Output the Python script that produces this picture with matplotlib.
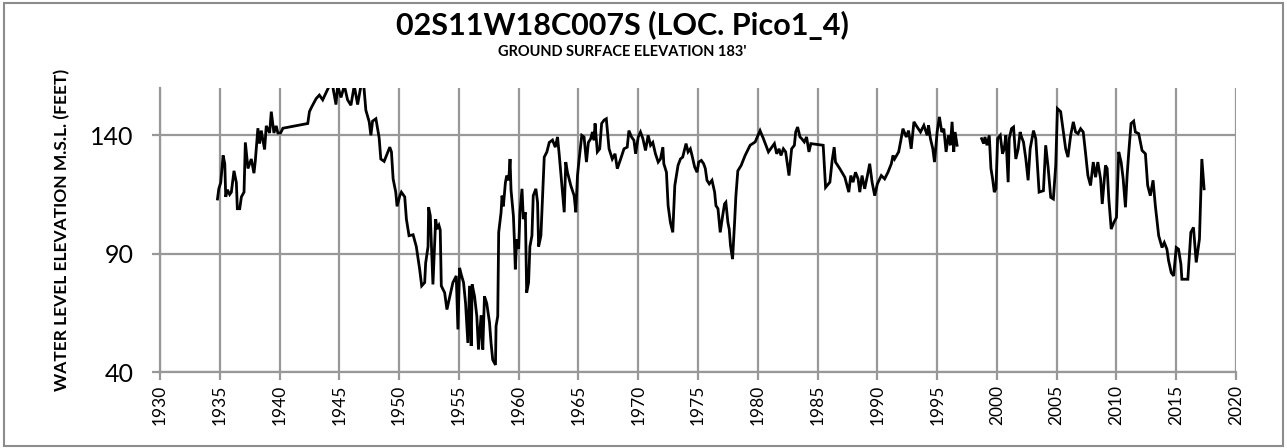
import numpy as np
import matplotlib
matplotlib.use('Agg')
import matplotlib.pyplot as plt
from matplotlib.patches import Rectangle

plt.rcParams['font.family'] = ['Lato', 'DejaVu Sans']

title = '02S11W18C007S (LOC. Pico1_4)'
subtitle = "GROUND SURFACE ELEVATION 183'"
ylabel = 'WATER LEVEL ELEVATION M.S.L. (FEET)'

# decimal year, water level (ft msl) -- nan marks the gap in records
years = [1934.81, 1934.92, 1935.08, 1935.28, 1935.42, 1935.50, 1935.64, 1935.83, 1935.97, 1936.19,
         1936.39, 1936.47, 1936.67, 1936.81, 1937.03, 1937.14, 1937.36, 1937.64, 1937.86, 1937.97,
         1938.19, 1938.33, 1938.47, 1938.75, 1938.89, 1939.17, 1939.31, 1939.53, 1939.72, 1939.86,
         1940.08, 1940.19, 1940.28, 1942.36, 1942.50, 1942.69, 1943.06, 1943.33, 1943.61, 1943.89,
         1944.17, 1944.44, 1944.72, 1944.86, 1945.14, 1945.42, 1945.69, 1945.97, 1946.25, 1946.53,
         1946.81, 1947.03, 1947.22, 1947.50, 1947.64, 1947.78, 1948.06, 1948.33, 1948.47, 1948.75,
         1949.22, 1949.36, 1949.50, 1949.72, 1949.83, 1950.06, 1950.19, 1950.47, 1950.61, 1950.83,
         1951.17, 1951.44, 1951.72, 1951.89, 1952.14, 1952.22, 1952.42, 1952.47, 1952.61, 1952.83,
         1953.06, 1953.17, 1953.33, 1953.44, 1953.53, 1953.81, 1954.00, 1954.50, 1954.78, 1954.92,
         1955.06, 1955.19, 1955.39, 1955.56, 1955.75, 1955.89, 1956.03, 1956.11, 1956.31, 1956.50,
         1956.64, 1956.86, 1957.00, 1957.14, 1957.33, 1957.56, 1957.69, 1957.83, 1958.06, 1958.11,
         1958.25, 1958.33, 1958.53, 1958.61, 1958.72, 1958.89, 1959.00, 1959.17, 1959.28, 1959.36,
         1959.56, 1959.64, 1959.72, 1959.83, 1960.00, 1960.11, 1960.28, 1960.39, 1960.56, 1960.67,
         1960.83, 1960.94, 1961.11, 1961.22, 1961.44, 1961.58, 1961.67, 1961.86, 1962.00, 1962.14,
         1962.36, 1962.56, 1962.83, 1963.06, 1963.25, 1963.39, 1963.61, 1963.81, 1963.94, 1964.08,
         1964.36, 1964.64, 1964.78, 1964.92, 1965.06, 1965.28, 1965.47, 1965.67, 1965.83, 1966.03,
         1966.17, 1966.31, 1966.39, 1966.58, 1966.78, 1966.94, 1967.14, 1967.33, 1967.56, 1967.83,
         1968.06, 1968.25, 1968.53, 1968.81, 1969.08, 1969.22, 1969.44, 1969.64, 1969.78, 1970.00,
         1970.19, 1970.39, 1970.61, 1970.83, 1971.03, 1971.22, 1971.44, 1971.67, 1971.86, 1972.06,
         1972.14, 1972.36, 1972.50, 1972.69, 1972.89, 1973.06, 1973.33, 1973.53, 1973.72, 1974.00,
         1974.17, 1974.36, 1974.50, 1974.72, 1974.92, 1975.06, 1975.28, 1975.47, 1975.61, 1975.75,
         1975.94, 1976.17, 1976.39, 1976.50, 1976.67, 1976.86, 1977.06, 1977.22, 1977.33, 1977.50,
         1977.61, 1977.72, 1977.89, 1978.06, 1978.17, 1978.33, 1978.61, 1978.94, 1979.36, 1979.78,
         1980.19, 1980.47, 1980.89, 1981.17, 1981.39, 1981.58, 1981.78, 1981.94, 1982.14, 1982.33,
         1982.61, 1982.83, 1983.06, 1983.17, 1983.33, 1983.53, 1983.67, 1983.89, 1984.08, 1984.28,
         1984.44, 1985.47, 1985.67, 1986.03, 1986.22, 1986.39, 1986.50, 1986.86, 1987.28, 1987.61,
         1987.78, 1987.97, 1988.17, 1988.39, 1988.53, 1988.72, 1988.94, 1989.17, 1989.36, 1989.56,
         1989.78, 1990.00, 1990.33, 1990.61, 1990.89, 1991.17, 1991.31, 1991.44, 1991.78, 1991.94,
         1992.14, 1992.42, 1992.61, 1992.83, 1993.06, 1993.33, 1993.61, 1993.89, 1994.17, 1994.28,
         1994.44, 1994.64, 1994.78, 1995.00, 1995.19, 1995.39, 1995.56, 1995.75, 1995.94, 1996.11,
         1996.25, 1996.39, 1996.50, 1996.67, 1997.70, 1998.72, 1998.89, 1999.00, 1999.17, 1999.36,
         1999.50, 1999.64, 1999.78, 1999.92, 2000.06, 2000.28, 2000.47, 2000.61, 2000.75, 2000.94,
         2001.03, 2001.22, 2001.39, 2001.58, 2001.78, 2001.94, 2002.06, 2002.22, 2002.42, 2002.61,
         2002.78, 2003.06, 2003.25, 2003.53, 2003.89, 2004.08, 2004.28, 2004.50, 2004.72, 2004.92,
         2005.06, 2005.33, 2005.56, 2005.75, 2005.94, 2006.17, 2006.39, 2006.58, 2006.78, 2007.00,
         2007.22, 2007.42, 2007.61, 2007.83, 2008.06, 2008.25, 2008.44, 2008.67, 2008.81, 2009.08,
         2009.22, 2009.36, 2009.56, 2009.78, 2010.00, 2010.19, 2010.39, 2010.56, 2010.75, 2010.89,
         2011.03, 2011.22, 2011.44, 2011.58, 2011.86, 2012.14, 2012.42, 2012.61, 2012.83, 2013.06,
         2013.25, 2013.53, 2013.81, 2014.00, 2014.22, 2014.36, 2014.58, 2014.78, 2015.00, 2015.19,
         2015.39, 2015.47, 2015.97, 2016.22, 2016.44, 2016.67, 2016.94, 2017.14, 2017.33]

levels = [113.1, 117.4, 120.0, 131.5, 128.0, 114.0, 117.0, 115.0, 116.0, 125.0,
          120.0, 109.0, 109.0, 114.0, 116.0, 137.0, 126.0, 130.0, 124.0, 129.0,
          143.0, 136.5, 142.0, 134.0, 144.0, 141.0, 150.0, 141.0, 144.0, 141.0,
          141.0, 142.0, 143.0, 145.0, 150.0, 152.0, 155.5, 157.0, 155.0, 158.0,
          161.0, 161.0, 153.0, 161.0, 156.0, 161.0, 155.0, 152.7, 161.0, 153.0,
          161.0, 162.0, 150.6, 145.7, 140.0, 146.0, 147.0, 139.0, 130.0, 129.0,
          135.0, 133.0, 121.6, 116.0, 110.0, 114.5, 116.0, 114.0, 104.6, 97.6,
          98.0, 93.0, 83.4, 76.4, 77.8, 86.0, 93.0, 109.6, 106.0, 77.0,
          104.6, 100.4, 102.0, 100.0, 76.4, 73.5, 66.4, 77.8, 80.6, 58.0,
          84.0, 81.3, 77.8, 69.0, 52.3, 76.4, 51.0, 77.0, 72.0, 63.6,
          49.5, 64.0, 49.5, 72.0, 69.0, 61.0, 52.3, 45.2, 43.0, 59.4,
          63.6, 99.0, 107.5, 114.5, 110.0, 120.0, 123.0, 121.0, 130.0, 117.0,
          106.0, 96.0, 83.4, 96.0, 92.0, 107.5, 117.4, 104.6, 107.5, 73.5,
          77.8, 93.0, 97.6, 114.5, 117.4, 111.7, 93.0, 97.6, 114.5, 130.8,
          133.0, 137.0, 138.0, 135.0, 139.3, 132.0, 119.0, 107.5, 128.7, 124.4,
          118.8, 114.5, 107.5, 123.0, 130.0, 140.0, 139.3, 128.7, 137.0, 138.6,
          141.4, 137.9, 145.0, 133.0, 134.3, 145.0, 146.4, 147.0, 134.3, 130.0,
          132.2, 125.9, 130.0, 134.3, 135.0, 142.0, 139.3, 137.9, 132.2, 139.3,
          141.4, 138.6, 133.6, 140.0, 135.8, 137.0, 132.2, 128.7, 130.0, 135.0,
          128.0, 124.4, 110.3, 103.2, 99.0, 118.8, 127.3, 130.0, 130.8, 136.5,
          133.0, 134.3, 131.5, 126.6, 124.4, 128.7, 129.4, 128.0, 126.0, 121.0,
          119.5, 121.0, 116.0, 110.3, 109.0, 99.0, 106.0, 111.0, 111.7, 103.2,
          100.4, 93.3, 87.7, 103.2, 114.5, 125.0, 127.3, 131.5, 135.8, 137.2,
          142.0, 138.6, 133.0, 135.0, 136.5, 132.2, 134.3, 131.5, 134.3, 133.0,
          123.0, 134.3, 135.8, 141.4, 143.5, 139.3, 138.6, 137.2, 139.3, 133.0,
          136.5, 135.8, 118.0, 120.2, 129.4, 135.0, 128.7, 125.9, 122.3, 116.0,
          123.0, 120.2, 124.4, 121.6, 116.0, 123.0, 117.4, 123.0, 128.0, 120.2,
          114.5, 119.5, 123.0, 121.6, 124.4, 128.0, 131.5, 130.0, 133.0, 137.2,
          142.8, 139.3, 142.0, 134.3, 145.7, 143.5, 141.4, 144.2, 140.0, 144.2,
          138.6, 134.3, 128.7, 141.4, 147.8, 141.4, 142.8, 133.0, 140.0, 135.8,
          145.7, 133.0, 141.4, 135.8, np.nan, 138.6, 136.5, 139.3, 135.8, 140.0,
          126.0, 121.6, 116.0, 117.4, 138.6, 140.0, 132.2, 134.3, 140.0, 120.2,
          138.6, 142.8, 143.5, 130.0, 134.3, 141.4, 139.3, 137.2, 130.0, 121.0,
          134.3, 142.0, 138.6, 116.0, 116.6, 135.8, 126.6, 113.8, 113.1, 127.3,
          151.3, 150.0, 141.4, 134.3, 130.8, 140.0, 145.7, 141.4, 140.7, 142.8,
          141.4, 132.2, 123.0, 118.8, 128.7, 122.3, 128.7, 121.6, 111.0, 127.3,
          126.0, 113.0, 100.4, 103.2, 105.3, 133.0, 128.7, 121.6, 109.6, 123.0,
          133.0, 145.0, 146.0, 141.4, 140.7, 133.6, 132.2, 118.8, 114.5, 121.0,
          110.3, 97.6, 92.6, 94.7, 91.9, 87.0, 82.0, 80.6, 92.6, 91.9,
          85.5, 79.2, 79.2, 99.0, 101.1, 86.3, 96.2, 130.0, 117.4]

xticks = list(range(1930, 2021, 5))
yticks = [40, 90, 140]

fig = plt.figure(figsize=(12.87, 4.48), dpi=100)
ax = fig.add_axes([0.1243, 0.1696, 0.8361, 0.634])

grey = '#989898'
ax.plot(years, levels, color='black', lw=2.0, solid_joinstyle='miter')

ax.set_xlim(1930, 2020)
ax.set_ylim(40, 160)
ax.set_xticks(xticks)
ax.set_xticklabels([str(t) for t in xticks], rotation=90, fontsize=12.5)
ax.set_yticks(yticks)
ax.set_yticklabels([str(t) for t in yticks], fontsize=18)
ax.grid(True, color=grey, lw=1.6)
ax.set_axisbelow(True)
ax.tick_params(direction='out', length=6, width=1.6, color=grey, pad=3)
ax.tick_params(axis='y', pad=13)
for s in ['top', 'right']:
    ax.spines[s].set_visible(False)
for s in ['left', 'bottom']:
    ax.spines[s].set_color(grey)
    ax.spines[s].set_linewidth(1.6)

ax.set_ylabel(ylabel, fontsize=12.5, fontweight='bold', labelpad=14)

fig.text(0.4835, 0.944, title, ha='center', va='center', fontsize=22, fontweight='bold')
fig.text(0.4835, 0.884, subtitle, ha='center', va='center', fontsize=10.5, fontweight='bold')

fig.patches.append(Rectangle((0.003, 0.005), 0.994, 0.988, transform=fig.transFigure,
                             fill=False, edgecolor='#8c8c8c', lw=1.5))

fig.savefig('out.png', dpi=100)
